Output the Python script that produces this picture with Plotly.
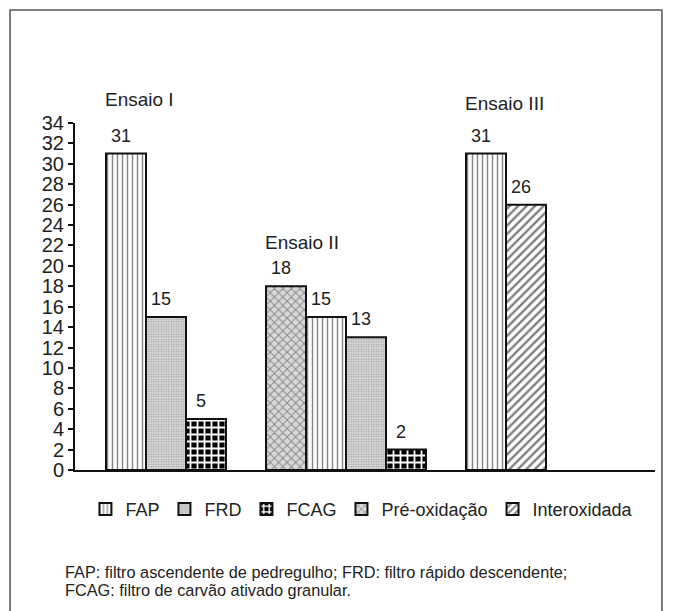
import plotly.graph_objects as go

# --- data -------------------------------------------------------------
groups = ["Ensaio I", "Ensaio II", "Ensaio III"]
group_series = [
    ["FAP", "FRD", "FCAG"],
    ["Pré-oxidação", "FAP", "FRD", "FCAG"],
    ["FAP", "Interoxidada"],
]
group_values = [
    [31, 15, 5],
    [18, 15, 13, 2],
    [31, 26],
]
legend_order = ["FAP", "FRD", "FCAG", "Pré-oxidação", "Interoxidada"]
y_ticks = list(range(0, 35, 2))
footnote_lines = [
    "FAP: filtro ascendente de pedregulho; FRD: filtro rápido descendente;",
    "FCAG: filtro de carvão ativado granular.",
]

# --- styling ----------------------------------------------------------
FONT = "Liberation Sans, Arial, Helvetica, sans-serif"
TXT = "#222222"
patterns = {
    "FAP": dict(shape="|", fgcolor="#111111", bgcolor="white", size=5, solidity=0.3),
    "FRD": dict(shape=".", fgcolor="#666666", bgcolor="#dddddd", size=2.5, solidity=0.4),
    "FCAG": dict(shape="+", fgcolor="white", bgcolor="#000000", fillmode="replace",
                 size=7, solidity=0.45),
    "Pré-oxidação": dict(shape="x", fgcolor="#3a3a3a", bgcolor="#d8d8d8", size=6, solidity=0.3),
    "Interoxidada": dict(shape="/", fgcolor="#000000", bgcolor="white", size=6, solidity=0.4),
}
# vertical offset (px) of each group title above its tallest bar
title_offsets = [54, 44, 50]

# bars are laid out in consecutive slots, one empty slot between groups
slot_x = []
pos = 0
for vals in group_values:
    slot_x.append(list(range(pos, pos + len(vals))))
    pos += len(vals) + 1

fig = go.Figure()
for name in legend_order:
    xs, ys = [], []
    for g, names in enumerate(group_series):
        for k, n in enumerate(names):
            if n == name:
                xs.append(slot_x[g][k])
                ys.append(group_values[g][k])
    fig.add_trace(go.Bar(
        x=xs, y=ys, name=name, width=1.0,
        marker=dict(color="white", pattern=patterns[name],
                    line=dict(color="#111111", width=2)),
        hoverinfo="skip",
    ))

annotations = []
# value labels
for g, vals in enumerate(group_values):
    for k, v in enumerate(vals):
        annotations.append(dict(
            x=slot_x[g][k], y=v, xref="x", yref="y", text=str(v),
            showarrow=False, yanchor="bottom", xanchor="center",
            xshift=-5, yshift=6, font=dict(family=FONT, size=18, color=TXT),
        ))
# group titles
for g, title in enumerate(groups):
    annotations.append(dict(
        x=slot_x[g][0] - 0.5, y=max(group_values[g]), xref="x", yref="y",
        text=title, showarrow=False, xanchor="left", yanchor="middle",
        xshift=-3, yshift=title_offsets[g],
        font=dict(family=FONT, size=19, color=TXT),
    ))
# footnote, one annotation per line
for i, line in enumerate(footnote_lines):
    annotations.append(dict(
        x=-0.021, y=-0.294 - 0.052 * i, xref="paper", yref="paper", text=line,
        showarrow=False, xanchor="left", yanchor="middle", align="left",
        font=dict(family=FONT, size=16.3, color=TXT),
    ))

fig.update_layout(
    width=673, height=611,
    margin=dict(l=75, r=18, t=123, b=141),
    paper_bgcolor="white", plot_bgcolor="white",
    font=dict(family=FONT, color=TXT),
    barmode="overlay",
    showlegend=True,
    legend=dict(orientation="h", x=0.018, y=-0.06, xanchor="left", yanchor="top",
                font=dict(family=FONT, size=18, color=TXT),
                itemwidth=30, traceorder="normal", bgcolor="rgba(0,0,0,0)"),
    annotations=annotations,
    shapes=[dict(type="rect", xref="paper", yref="paper",
                 x0=-0.112, x1=1.012, y0=-0.6, y1=1.3256,
                 line=dict(color="#555555", width=1.5), fillcolor="rgba(0,0,0,0)",
                 layer="below")],
)
fig.update_xaxes(range=[-1.275, 13.225], showticklabels=False, ticks="",
                 showgrid=False, zeroline=False, showline=True,
                 linecolor="#111111", linewidth=1.5)
fig.update_yaxes(range=[0, 34], tickvals=y_ticks, ticks="outside", ticklen=5,
                 tickwidth=1.5, tickcolor="#111111", showgrid=False, zeroline=False,
                 showline=True, linecolor="#111111", linewidth=2,
                 tickfont=dict(family=FONT, size=20, color=TXT))

fig.write_html("out.html")
